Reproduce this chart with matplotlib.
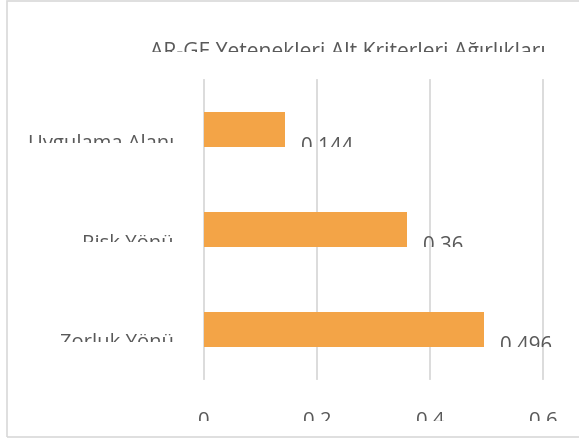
import matplotlib.pyplot as plt
from matplotlib.patches import Rectangle
from matplotlib.transforms import Bbox, offset_copy

# veriler (yukaridan asagiya)
categories = ['Uygulama Alanı', 'Risk Yönü', 'Zorluk Yönü']
weights = [0.144, 0.36, 0.496]
value_labels = ['0.144', '0.36', '0.496']
xticks = [0, 0.2, 0.4, 0.6]
xtick_labels = ['0', '0.2', '0.4', '0.6']
title = 'AR-GE Yetenekleri Alt Kriterleri Ağırlıkları'

BAR = '#F3A447'
GRID = '#D9D9D9'
TXT = '#595959'

plt.rcParams['font.family'] = ['Open Sans', 'DejaVu Sans']

W, H = 579, 441
fig = plt.figure(figsize=(W / 100, H / 100), dpi=100)
ax = fig.add_axes([204 / W, 62 / H, 339 / W, 299 / H])
ax.set_facecolor('none')

ypos = list(range(len(categories)))
bar_h = 0.35
ax.barh(ypos, weights, height=bar_h, color=BAR, zorder=2)
ax.set_xlim(0, 0.6)
ax.set_ylim(len(categories) - 0.5, -0.5)
for t in xticks:
    ax.axvline(t, color=GRID, lw=1.3, zorder=0, clip_on=False)
ax.set_xticks([])
ax.set_yticks([])
for s in ax.spines.values():
    s.set_visible(False)


# excel ciktisindaki gibi yazilarin alt kismi kesik
def clip_above(txt, y_disp):
    txt.set_clip_path(None)
    txt.set_clip_box(Bbox([[0, y_disp], [W, H]]))
    txt.set_clip_on(True)


def bar_bottom(i):
    return ax.transData.transform((0, i + bar_h / 2))[1]


# deger etiketleri
for i, (v, lab) in enumerate(zip(weights, value_labels)):
    t = ax.annotate(lab, (v, i), xytext=(11.5, -5), textcoords='offset points',
                    ha='left', va='top', fontsize=14.8, color=TXT)
    clip_above(t, bar_bottom(i))

# kategori etiketleri
cat_tr = offset_copy(ax.get_yaxis_transform(), fig, x=-30, y=-4.3, units='dots')
for i, c in enumerate(categories):
    t = ax.text(0, i, c, transform=cat_tr, ha='right', va='top', fontsize=14.6, color=TXT)
    clip_above(t, bar_bottom(i) + 4.5)

# x ekseni etiketleri
tick_tr = offset_copy(ax.get_xaxis_transform(), fig, y=-32, units='dots')
for x, lab in zip(xticks, xtick_labels):
    t = ax.text(x, 0, lab, transform=tick_tr, ha='center', va='top', fontsize=14.6, color=TXT)
    clip_above(t, H - 420.5)

# baslik
t = fig.text(347.5 / W, 1 - 42 / H, title, ha='center', va='top', fontsize=15.2, color=TXT)
clip_above(t, H - 52)

# cerceve
fig.patches.append(Rectangle((6.5 / W, 4 / H), 1.0, 436.5 / H, transform=fig.transFigure,
                             fill=False, ec=GRID, lw=1.2))

fig.savefig('out.png', dpi=100)
